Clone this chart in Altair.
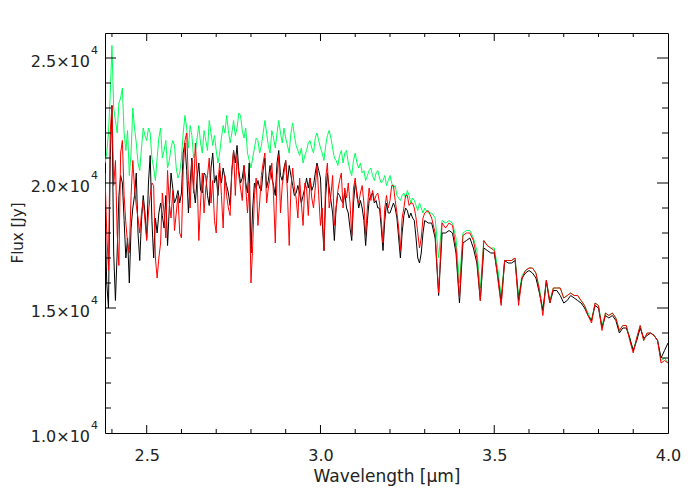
import altair as alt
import pandas as pd
import numpy as np

# main wavelength grid (micron) and extra half-step samples in the noisy part
wavelength = list(np.round(np.arange(2.38, 4.0001, 0.01), 3))
wavelength_mid = list(np.round(np.arange(2.385, 3.2951, 0.01), 3))

# flux in units of 1e4 Jy
green_flux = [
    2.08, 2.20, 2.55, 2.25, 2.32, 2.38, 2.13, 2.03, 2.30, 2.16,
    2.05, 2.22, 2.17, 2.20, 2.06, 2.10, 2.22, 2.13, 2.06, 2.14,
    2.15, 2.02, 2.10, 2.27, 2.14, 2.19, 2.12, 2.23, 2.12, 2.17,
    2.25, 2.15, 2.13, 2.12, 2.23, 2.27, 2.16, 2.25, 2.22, 2.27,
    2.18, 2.12, 2.06, 2.14, 2.17, 2.15, 2.25, 2.15, 2.21, 2.14,
    2.25, 2.16, 2.18, 2.12, 2.24, 2.15, 2.11, 2.08, 2.13, 2.17,
    2.12, 2.20, 2.14, 2.09, 2.19, 2.18, 2.10, 2.07, 2.13, 2.12,
    2.08, 2.03, 2.12, 2.06, 2.04, 2.01, 2.05, 2.03, 2.04, 2.02,
    2.01, 1.99, 2.03, 1.98, 1.95, 1.93, 1.96, 1.97, 1.92, 1.93,
    1.89, 1.90, 1.90, 1.88, 1.88, 1.86, 1.70, 1.85, 1.84, 1.85,
    1.84, 1.78, 1.60, 1.80, 1.81, 1.81, 1.78, 1.73, 1.58, 1.77,
    1.75, 1.74, 1.74, 1.66, 1.55, 1.69, 1.69, 1.69, 1.70, 1.55,
    1.63, 1.65, 1.66, 1.66, 1.64, 1.58, 1.49, 1.61, 1.53, 1.58,
    1.58, 1.58, 1.54, 1.55, 1.56, 1.55, 1.55, 1.53, 1.51, 1.48,
    1.45, 1.52, 1.51, 1.43, 1.48, 1.47, 1.48, 1.46, 1.41, 1.43,
    1.43, 1.38, 1.33, 1.38, 1.43, 1.37, 1.40, 1.40, 1.39, 1.37,
    1.29, 1.30, 1.28,
]
green_mid = [
    2.12, 2.35, 2.30, 2.20, 2.34, 2.20, 2.21, 2.12, 2.22, 2.08,
    2.14, 2.19, 2.22, 2.10, 2.01, 2.18, 2.10, 2.17, 2.09, 2.17,
    2.06, 2.04, 2.20, 2.22, 2.23, 2.10, 2.18, 2.16, 2.21, 2.13,
    2.20, 2.19, 2.08, 2.18, 2.20, 2.21, 2.20, 2.19, 2.28, 2.21,
    2.22, 2.09, 2.10, 2.18, 2.12, 2.20, 2.20, 2.12, 2.18, 2.20,
    2.20, 2.22, 2.15, 2.20, 2.19, 2.13, 2.14, 2.11, 2.16, 2.14,
    2.18, 2.17, 2.12, 2.15, 2.21, 2.14, 2.09, 2.11, 2.08, 2.13,
    2.05, 2.09, 2.08, 2.08, 2.05, 2.03, 2.06, 2.01, 2.05, 2.00,
    2.03, 2.01, 2.00, 1.99, 1.94, 1.95, 1.94, 1.95, 1.94, 1.91,
    1.92, 1.88,
]

red_flux = [
    2.04, 1.65, 2.31, 2.09, 1.67, 2.17, 1.84, 1.72, 2.09, 1.91,
    1.80, 1.93, 1.77, 1.95, 1.99, 1.62, 1.76, 1.88, 2.05, 1.86,
    1.81, 1.95, 1.78, 2.17, 2.01, 2.09, 2.16, 1.77, 2.04, 1.98,
    2.10, 2.01, 1.80, 2.08, 1.82, 1.95, 1.87, 2.13, 2.11, 1.98,
    2.07, 1.88, 1.60, 1.95, 1.83, 2.03, 2.12, 1.98, 2.08, 1.76,
    2.11, 1.99, 2.09, 1.75, 2.06, 1.94, 2.02, 1.83, 1.98, 2.02,
    1.90, 2.07, 1.83, 1.73, 2.08, 1.95, 1.83, 1.97, 2.04, 1.98,
    2.00, 1.79, 2.02, 1.92, 1.99, 1.79, 1.98, 1.97, 1.95, 1.92,
    1.76, 1.95, 1.93, 1.99, 1.88, 1.73, 1.90, 1.95, 1.92, 1.90,
    1.80, 1.78, 1.88, 1.89, 1.86, 1.80, 1.56, 1.84, 1.82, 1.84,
    1.83, 1.74, 1.54, 1.79, 1.80, 1.80, 1.77, 1.70, 1.53, 1.77,
    1.75, 1.74, 1.73, 1.62, 1.51, 1.69, 1.69, 1.69, 1.70, 1.51,
    1.62, 1.65, 1.66, 1.66, 1.64, 1.57, 1.47, 1.61, 1.52, 1.58,
    1.58, 1.58, 1.54, 1.55, 1.56, 1.55, 1.55, 1.53, 1.51, 1.47,
    1.44, 1.52, 1.51, 1.41, 1.48, 1.47, 1.48, 1.46, 1.41, 1.43,
    1.43, 1.37, 1.32, 1.38, 1.43, 1.37, 1.40, 1.40, 1.39, 1.37,
    1.28, 1.29, 1.28,
]
red_mid = [
    1.80, 2.20, 1.99, 1.80, 2.12, 1.95, 1.76, 1.95, 1.98, 1.86,
    1.88, 1.85, 1.88, 2.00, 1.70, 1.70, 1.96, 1.78, 1.92, 1.97,
    1.88, 1.80, 2.05, 2.20, 1.90, 1.96, 2.03, 1.92, 1.88, 2.03,
    1.92, 1.85, 2.00, 1.95, 2.03, 1.90, 2.05, 1.95, 2.03, 1.93,
    1.98, 2.00, 1.75, 2.02, 1.92, 2.08, 1.92, 2.02, 1.95, 2.03,
    1.88, 2.04, 1.96, 1.98, 1.98, 1.86, 1.92, 2.00, 1.87, 1.94,
    1.98, 1.95, 1.90, 2.02, 1.90, 2.03, 1.90, 2.01, 1.90, 1.94,
    1.92, 1.98, 1.94, 1.96, 1.92, 1.90, 1.93, 1.93, 1.96, 1.85,
    1.90, 1.90, 1.99, 1.93, 1.82, 1.86, 1.95, 1.91, 1.92, 1.86,
    1.74, 1.86,
]

black_flux = [
    1.88, 1.50, 2.31, 1.53, 1.95, 2.00, 1.70, 1.60, 1.90, 2.04,
    1.69, 1.95, 1.78, 2.11, 1.70, 1.80, 1.92, 1.82, 1.75, 2.04,
    1.92, 1.97, 1.96, 2.16, 1.88, 2.10, 1.92, 2.08, 1.96, 2.03,
    1.91, 2.12, 2.03, 2.05, 2.06, 1.99, 1.91, 2.13, 2.15, 2.00,
    2.07, 1.96, 1.72, 2.00, 2.01, 1.97, 2.10, 2.01, 2.02, 1.95,
    2.13, 2.01, 2.09, 2.07, 1.99, 1.96, 1.96, 1.95, 2.02, 2.02,
    1.99, 2.08, 2.02, 1.73, 2.04, 1.93, 1.77, 1.96, 1.93, 1.96,
    1.88, 1.77, 2.00, 1.90, 1.90, 1.75, 1.93, 1.96, 1.93, 1.90,
    1.73, 1.92, 1.88, 1.92, 1.86, 1.70, 1.87, 1.89, 1.88, 1.85,
    1.70, 1.72, 1.85, 1.84, 1.84, 1.78, 1.55, 1.80, 1.80, 1.81,
    1.80, 1.72, 1.52, 1.76, 1.77, 1.78, 1.74, 1.68, 1.53, 1.74,
    1.73, 1.72, 1.72, 1.63, 1.52, 1.69, 1.68, 1.68, 1.69, 1.53,
    1.62, 1.64, 1.65, 1.64, 1.62, 1.56, 1.49, 1.61, 1.52, 1.57,
    1.57, 1.55, 1.52, 1.53, 1.55, 1.54, 1.53, 1.52, 1.50, 1.47,
    1.45, 1.51, 1.50, 1.42, 1.47, 1.46, 1.47, 1.45, 1.40, 1.42,
    1.42, 1.38, 1.33, 1.37, 1.42, 1.38, 1.39, 1.40, 1.39, 1.37,
    1.30, 1.33, 1.36,
]
black_mid = [
    1.60, 2.10, 1.72, 1.72, 2.03, 1.85, 1.78, 1.82, 1.95, 1.80,
    1.85, 1.88, 2.00, 1.85, 1.86, 1.88, 1.87, 1.95, 1.90, 1.98,
    1.94, 1.92, 2.12, 2.05, 2.00, 1.98, 2.02, 1.97, 2.04, 1.95,
    2.06, 2.00, 1.95, 2.00, 2.02, 1.96, 2.05, 2.08, 2.05, 2.02,
    2.00, 2.08, 1.90, 1.98, 1.98, 2.05, 1.98, 2.07, 1.99, 2.08,
    2.03, 2.06, 2.00, 2.03, 1.95, 1.99, 1.92, 1.98, 1.98, 1.97,
    2.04, 2.05, 1.85, 1.95, 1.98, 1.88, 1.90, 1.95, 1.92, 1.90,
    1.82, 1.92, 1.96, 1.93, 1.85, 1.85, 1.95, 1.92, 1.90, 1.82,
    1.85, 1.88, 1.90, 1.90, 1.78, 1.80, 1.90, 1.86, 1.86, 1.78,
    1.68, 1.80,
]

x_major = [2.5, 3.0, 3.5]
x_minor = [2.4, 2.6, 2.7, 2.8, 2.9, 3.1, 3.2, 3.3, 3.4, 3.6, 3.7, 3.8, 3.9]
y_major = [15000, 20000, 25000]
y_minor = [11000, 12000, 13000, 14000, 16000, 17000, 18000, 19000,
           21000, 22000, 23000, 24000]
x_labels = [2.5, 3.0, 3.5, 4.0]
y_labels = [10000, 15000, 20000, 25000]
y_label_text = ["1.0×10", "1.5×10", "2.0×10", "2.5×10"]
y_label_exp = ["4", "4", "4", "4"]
x_title = "Wavelength [μm]"
y_title = "Flux [Jy]"

W, H = 563, 400
FONT = "DejaVu Sans"
TXT = "#222222"

xs = alt.Scale(domain=[2.38, 4.0], nice=False, zero=False)
ys = alt.Scale(domain=[10000, 26000], nice=False, zero=False)

XAXIS = alt.Axis(
    values=x_labels, format=".1f", ticks=False, tickSize=0,
    grid=False, domain=False, labelPadding=14, labelFontSize=16,
    labelFont=FONT, labelColor=TXT, title=x_title,
    titleFont=FONT, titleFontSize=17, titleFontWeight="normal",
    titleColor=TXT, titlePadding=5, labelFlush=False)
YAXIS = alt.Axis(values=y_labels, ticks=False, tickSize=0, grid=False,
                 domain=False, labels=False, title=None)


def series_df(vals, mids):
    df = pd.DataFrame({
        "wl": wavelength + wavelength_mid,
        "flux": [v * 1e4 for v in vals] + [v * 1e4 for v in mids],
    })
    return df.sort_values("wl").reset_index(drop=True)


def line(vals, mids, color):
    return alt.Chart(series_df(vals, mids)).mark_line(
        color=color, strokeWidth=1, clip=True
    ).encode(
        x=alt.X("wl:Q", scale=xs, axis=XAXIS),
        y=alt.Y("flux:Q", scale=ys, axis=YAXIS),
        order=alt.Order("wl:Q"),
    )


def vticks(vals, y0, y1):
    return alt.Chart(pd.DataFrame({"wl": vals})).mark_rule(
        color="black", strokeWidth=1
    ).encode(x=alt.X("wl:Q", scale=xs, axis=XAXIS),
             y=alt.value(y0), y2=alt.value(y1))


def hticks(vals, x0, x1):
    return alt.Chart(pd.DataFrame({"flux": vals})).mark_rule(
        color="black", strokeWidth=1
    ).encode(y=alt.Y("flux:Q", scale=ys, axis=YAXIS),
             x=alt.value(x0), x2=alt.value(x1))


ylab_df = pd.DataFrame({"flux": y_labels, "txt": y_label_text,
                        "exp": y_label_exp})
ylab_main = alt.Chart(ylab_df).mark_text(
    align="right", baseline="middle", font=FONT, fontSize=16, color=TXT,
    dy=4
).encode(y=alt.Y("flux:Q", scale=ys, axis=YAXIS), x=alt.value(-15),
         text="txt:N")
ylab_exp = alt.Chart(ylab_df).mark_text(
    align="left", baseline="middle", font=FONT, fontSize=11, color=TXT,
    dy=-7
).encode(y=alt.Y("flux:Q", scale=ys, axis=YAXIS), x=alt.value(-14),
         text="exp:N")
ytitle = alt.Chart(pd.DataFrame({"t": [y_title]})).mark_text(
    angle=270, align="center", baseline="middle", font=FONT, fontSize=15,
    color=TXT
).encode(x=alt.value(-87), y=alt.value(200), text="t:N")

layers = [
    line(green_flux, green_mid, "#00ff5a"),
    line(black_flux, black_mid, "#000000"),
    line(red_flux, red_mid, "#ff0000"),
    vticks(x_major, H, H - 8), vticks(x_minor, H, H - 4),
    vticks(x_major, 0, 8), vticks(x_minor, 0, 4),
    hticks(y_major, 0, 11), hticks(y_minor, 0, 6),
    hticks(y_major, W, W - 11), hticks(y_minor, W, W - 6),
    ylab_main, ylab_exp, ytitle,
]

chart = alt.layer(*layers).properties(
    width=W, height=H,
    autosize=alt.AutoSizeParams(type="none"),
    padding={"left": 97, "top": 25, "right": 24, "bottom": 59},
).configure_view(stroke="black", strokeWidth=1)

chart.save("out.html", embed_options={"renderer": "svg", "actions": False})
